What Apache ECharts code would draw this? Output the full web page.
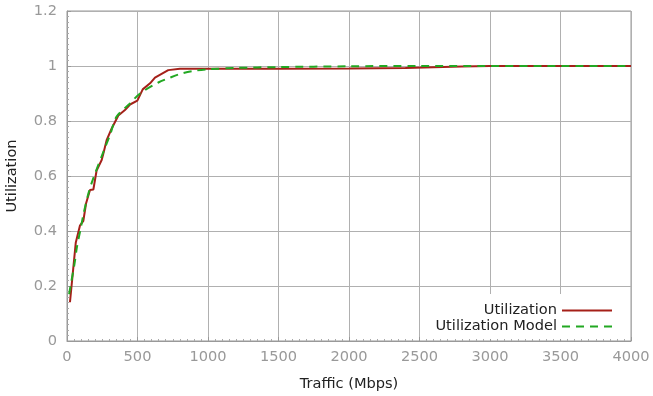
<!DOCTYPE html>
<html><head><meta charset="utf-8">
<script src="https://cdn.jsdelivr.net/npm/echarts@6/dist/echarts.min.js"></script>
<style>html,body{margin:0;padding:0;background:#fff}#c{width:653px;height:396px}</style>
</head><body><div id="c"></div>
<script>
var utilTraffic = [21, 62, 92, 116, 135, 163, 187, 210, 246, 258, 281, 317, 364, 411, 447, 499, 537, 589, 624, 718, 801, 1000, 1500, 2000, 2400, 2800, 3000, 4000];
var utilValues  = [0.141, 0.357, 0.42, 0.437, 0.50, 0.549, 0.551, 0.62, 0.658, 0.682, 0.73, 0.773, 0.82, 0.84, 0.86, 0.874, 0.915, 0.937, 0.958, 0.985, 0.99, 0.99, 0.99, 0.991, 0.993, 0.998, 1.0, 1.0];
var modelTraffic = [15, 24, 54, 71, 95, 118, 149, 182, 258, 305, 352, 447, 518, 648, 719, 801, 896, 1002, 1200, 1500, 2000, 2500, 4000];
var modelValues  = [0.17, 0.197, 0.283, 0.343, 0.404, 0.464, 0.531, 0.585, 0.688, 0.749, 0.816, 0.864, 0.90, 0.94, 0.955, 0.971, 0.982, 0.988, 0.993, 0.996, 0.999, 1.0, 1.0];
var seriesNames = ['Utilization', 'Utilization Model'];

function pairs(xs, ys){ return xs.map(function(x,i){ return [x, ys[i]]; }); }

var chart = echarts.init(document.getElementById('c'), null, {renderer:'canvas'});
var font = 'DejaVu Sans';
var fs = 14.6;
chart.setOption({
  animation: false,
  backgroundColor: '#fff',
  grid: {left: 67, right: 22, top: 11, bottom: 55, show: true, borderColor: '#999', borderWidth: 1,
         containLabel: false, outerBoundsMode: 'none'},
  legend: {
    data: seriesNames, orient: 'vertical', align: 'right',
    right: 37, bottom: 57, itemWidth: 50, itemHeight: 14, itemGap: 1,
    backgroundColor: '#fff', padding: [9, 3, 5, 14],
    itemStyle: {opacity: 0},
    textStyle: {fontFamily: font, fontSize: fs, color: '#222'}
  },
  xAxis: {
    type: 'value', min: 0, max: 4000, interval: 500,
    name: 'Traffic (Mbps)', nameLocation: 'middle', nameGap: 36,
    nameTextStyle: {fontFamily: font, fontSize: fs, color: '#222'},
    axisLine: {show: true, lineStyle: {color: '#999'}},
    axisTick: {show: true, inside: true, length: 4, lineStyle: {color: '#999'}},
    minorTick: {show: true, splitNumber: 10, length: 2, lineStyle: {color: '#aaa'}},
    axisLabel: {fontFamily: font, fontSize: fs, color: '#999', margin: 9,
      formatter: function(v){ return String(v); }},
    splitLine: {show: true, lineStyle: {color: '#b0b0b0', width: 1}}
  },
  yAxis: {
    type: 'value', min: 0, max: 1.2, interval: 0.2,
    name: 'Utilization', nameLocation: 'middle', nameGap: 47,
    nameTextStyle: {fontFamily: font, fontSize: fs, color: '#222'},
    axisLine: {show: true, lineStyle: {color: '#999'}},
    axisTick: {show: true, inside: true, length: 4, lineStyle: {color: '#999'}},
    minorTick: {show: true, splitNumber: 10, length: 2, lineStyle: {color: '#aaa'}},
    axisLabel: {fontFamily: font, fontSize: fs, color: '#999', margin: 10,
      formatter: function(v){ return String(Math.round(v * 10) / 10); }},
    splitLine: {show: true, lineStyle: {color: '#b0b0b0', width: 1}}
  },
  series: [
    {name: seriesNames[0], type: 'line', data: pairs(utilTraffic, utilValues), symbol: 'none', z: 3,
     lineStyle: {color: '#a52019', width: 2}, itemStyle: {color: '#a52019'}},
    {name: seriesNames[1], type: 'line', data: pairs(modelTraffic, modelValues), symbol: 'none', smooth: 0.3, z: 4,
     lineStyle: {color: '#22a822', width: 2, type: [8, 6]}, itemStyle: {color: '#22a822'}}
  ]
});
</script></body></html>
